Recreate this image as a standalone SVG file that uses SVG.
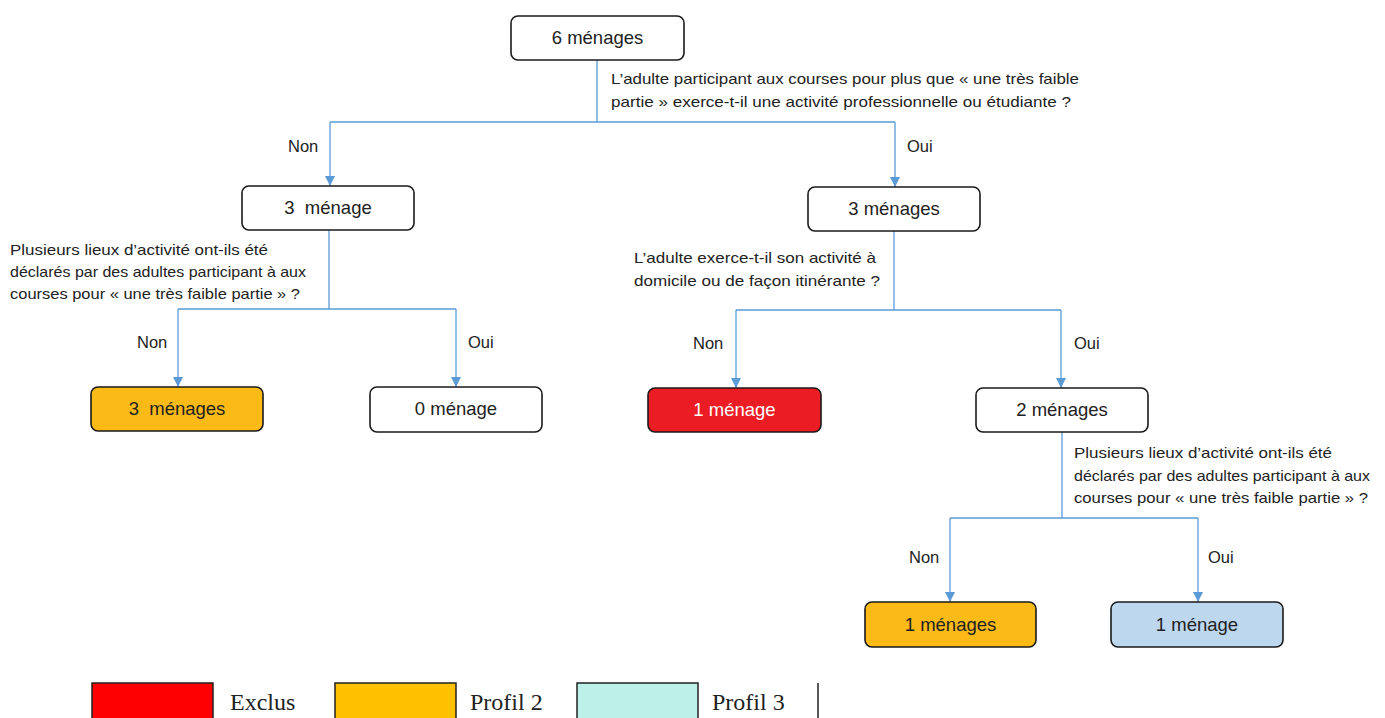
<svg xmlns="http://www.w3.org/2000/svg" width="1385" height="718" viewBox="0 0 1385 718">
<style>
.box{stroke:#1a1a1a;stroke-width:1.6;}
.w{fill:#ffffff;}
.y{fill:#FBBA16;}
.r{fill:#EC1C24;}
.b{fill:#BDD7EE;}
.lbl{font-family:"Liberation Sans",Arial,sans-serif;font-size:18.5px;fill:#222;text-anchor:middle;}
.q{font-family:"Liberation Sans",Arial,sans-serif;font-size:15px;fill:#222;}
.br{font-family:"Liberation Sans",Arial,sans-serif;font-size:16.5px;fill:#222;}
.conn{fill:none;stroke:#5B9BD5;stroke-width:1.3;}
.leg{font-family:"Liberation Serif","Times New Roman",serif;font-size:24px;fill:#222;}
</style>
<defs>
<marker id="arr" viewBox="0 0 10 10" refX="10" refY="5" markerWidth="10" markerHeight="10" markerUnits="userSpaceOnUse" orient="auto">
<path d="M0,0 L10,5 L0,10 z" fill="#5B9BD5"/>
</marker>
</defs>
<rect width="1385" height="718" fill="#ffffff"/>
<g id="connectors">
<path class="conn" d="M597,60 V122 H330 M597,122 H895"/>
<path class="conn" d="M330,122 V186" marker-end="url(#arr)"/>
<path class="conn" d="M895,122 V187" marker-end="url(#arr)"/>
<path class="conn" d="M329,230 V309 H178 M329,309 H456"/>
<path class="conn" d="M178,309 V387" marker-end="url(#arr)"/>
<path class="conn" d="M456,309 V387" marker-end="url(#arr)"/>
<path class="conn" d="M894,231 V310 H736 M894,310 H1061"/>
<path class="conn" d="M736,310 V388" marker-end="url(#arr)"/>
<path class="conn" d="M1061,310 V388" marker-end="url(#arr)"/>
<path class="conn" d="M1062,432 V518 H950 M1062,518 H1198"/>
<path class="conn" d="M950,518 V602" marker-end="url(#arr)"/>
<path class="conn" d="M1198,518 V602" marker-end="url(#arr)"/>
<text class="br" x="288" y="152">Non</text>
<text class="br" x="907" y="152">Oui</text>
<text class="br" x="137" y="348">Non</text>
<text class="br" x="468" y="348">Oui</text>
<text class="br" x="693" y="349">Non</text>
<text class="br" x="1074" y="349">Oui</text>
<text class="br" x="909" y="563">Non</text>
<text class="br" x="1208" y="563">Oui</text>
</g>
<g id="q1">
<text class="q" x="611" y="84" textLength="468" lengthAdjust="spacingAndGlyphs">L’adulte participant aux courses pour plus que « une très faible</text>
<text class="q" x="611" y="107" textLength="460" lengthAdjust="spacingAndGlyphs">partie » exerce-t-il une activité professionnelle ou étudiante ?</text>
</g>
<g id="q2">
<text class="q" x="10" y="255" textLength="258" lengthAdjust="spacingAndGlyphs">Plusieurs lieux d’activité ont-ils été</text>
<text class="q" x="10" y="277" textLength="296" lengthAdjust="spacingAndGlyphs">déclarés par des adultes participant à aux</text>
<text class="q" x="10" y="299" textLength="290" lengthAdjust="spacingAndGlyphs">courses pour « une très faible partie » ?</text>
</g>
<g id="q3">
<text class="q" x="634" y="263" textLength="242" lengthAdjust="spacingAndGlyphs">L’adulte exerce-t-il son activité à</text>
<text class="q" x="634" y="286" textLength="246" lengthAdjust="spacingAndGlyphs">domicile ou de façon itinérante ?</text>
</g>
<g id="q4">
<text class="q" x="1074" y="458" textLength="258" lengthAdjust="spacingAndGlyphs">Plusieurs lieux d’activité ont-ils été</text>
<text class="q" x="1074" y="481" textLength="296" lengthAdjust="spacingAndGlyphs">déclarés par des adultes participant à aux</text>
<text class="q" x="1074" y="503" textLength="294" lengthAdjust="spacingAndGlyphs">courses pour « une très faible partie » ?</text>
</g>
<g id="n_root">
<rect class="box w" x="511" y="16" width="173" height="44" rx="7"/>
<text class="lbl" x="597.5" y="44">6 ménages</text>
</g>
<g id="n_left">
<rect class="box w" x="242" y="186" width="172" height="44" rx="7"/>
<text class="lbl" x="328" y="214">3&#160; ménage</text>
</g>
<g id="n_right">
<rect class="box w" x="808" y="187" width="172" height="44" rx="7"/>
<text class="lbl" x="894" y="215">3 ménages</text>
</g>
<g id="n_ll">
<rect class="box y" x="91" y="387" width="172" height="44" rx="7"/>
<text class="lbl" x="177" y="415">3&#160; ménages</text>
</g>
<g id="n_lr">
<rect class="box w" x="370" y="387" width="172" height="45" rx="7"/>
<text class="lbl" x="456" y="415">0 ménage</text>
</g>
<g id="n_rl">
<rect class="box r" x="648" y="388" width="173" height="44" rx="7"/>
<text class="lbl" x="734.5" y="416" style="fill:#ffffff">1 ménage</text>
</g>
<g id="n_rr">
<rect class="box w" x="976" y="388" width="172" height="44" rx="7"/>
<text class="lbl" x="1062" y="416">2 ménages</text>
</g>
<g id="n_rrl">
<rect class="box y" x="865" y="602" width="171" height="45" rx="7"/>
<text class="lbl" x="950.5" y="631">1 ménages</text>
</g>
<g id="n_rrr">
<rect class="box b" x="1111" y="602" width="172" height="45" rx="7"/>
<text class="lbl" x="1197" y="631">1 ménage</text>
</g>
<g id="legend">
<rect x="92" y="683" width="121" height="40" fill="#FF0000" stroke="#222" stroke-width="1.5"/>
<text class="leg" x="230" y="710">Exclus</text>
<rect x="335" y="683" width="121" height="40" fill="#FFC000" stroke="#222" stroke-width="1.5"/>
<text class="leg" x="470" y="710">Profil 2</text>
<rect x="577" y="683" width="121" height="40" fill="#BDF0E8" stroke="#222" stroke-width="1.5"/>
<text class="leg" x="712" y="710">Profil 3</text>
<line x1="818" y1="683" x2="818" y2="718" stroke="#222" stroke-width="1.5"/>
</g>
</svg>
